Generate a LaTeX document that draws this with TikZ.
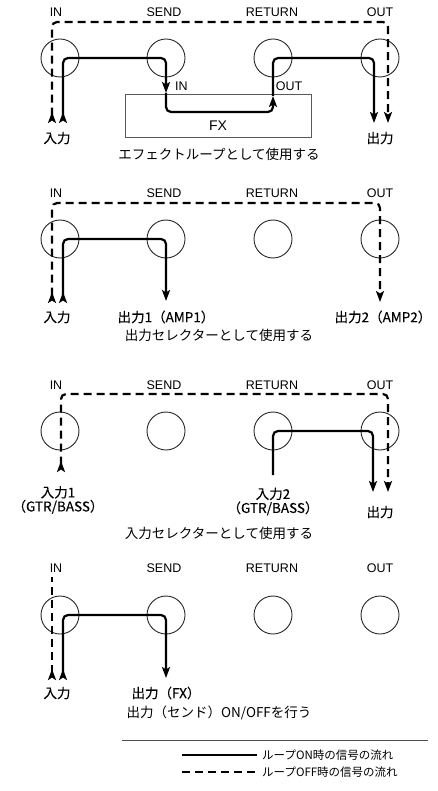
\documentclass[tikz,border=0pt]{standalone}
\usepackage{fontspec}
\setmainfont{Liberation Sans}
\newfontfamily\jp{Noto Sans CJK JP}
\newfontfamily\jpb[FakeBold=0.2]{Noto Sans CJK JP}
\usetikzlibrary{positioning, arrows.meta}

\tikzset{
  jack/.style={circle, draw=black!85, line width=0.9pt, minimum size=38pt, inner sep=0pt},
  jacklbl/.style={font=\fontsize{12.5pt}{14pt}\selectfont, inner sep=0pt},
  jptxt/.style={font=\jpb\fontsize{13.5pt}{14pt}\selectfont, inner sep=0pt, align=center},
  captxt/.style={font=\jp\fontsize{13.5pt}{14pt}\selectfont, inner sep=0pt},
  legtxt/.style={font=\jp\fontsize{11.5pt}{13pt}\selectfont, inner sep=0pt, anchor=west},
  sig/.style={line width=2.2pt, rounded corners=5pt},
  byp/.style={sig, dash pattern=on 8pt off 5pt},
  headin/.style={arrows={Stealth[reversed, length=11pt, width=8pt, inset=2.5pt]}-},
  headout/.style={arrows=-{Stealth[length=11pt, width=8pt, inset=2.5pt]}},
  bothway/.style={arrows={Stealth[reversed, length=11pt, width=8pt, inset=2.5pt]}-{Stealth[length=11pt, width=8pt, inset=2.5pt]}},
  fxbox/.style={draw=black!65, line width=0.9pt, minimum width=186pt, minimum height=43pt, inner sep=0pt},
  sepline/.style={draw=black!70, line width=0.9pt},
}

\begin{document}
\begin{tikzpicture}[x=1pt, y=-1pt]
\useasboundingbox (0,0) rectangle (438,791);

\node[jacklbl] at (56,12) {IN};
\node[jacklbl] at (164,12) {SEND};
\node[jacklbl] at (272,12) {RETURN};
\node[jacklbl] at (380,12) {OUT};
\node[jack] (in1) at (60,58) {};
\node[jack] (snd1) at (166,58) {};
\node[jack] (ret1) at (273,58) {};
\node[jack] (out1) at (380,58) {};
\node[fxbox] (fx) at (218,115.5) {};
\node[font=\fontsize{14pt}{16pt}\selectfont] at (218,126) {FX};
\node[jacklbl, anchor=west] at (175,86) {IN};
\node[jacklbl] at (289,86) {OUT};
\coordinate (d1a) at (52,123);
\coordinate (d1b) at (388,22);
\coordinate (d1c) at (388,123);
\coordinate (s1a) at (63,123);
\coordinate (s1b) at (166,93);
\coordinate (s1c) at (273,112);
\coordinate (s1d) at (273,96);
\coordinate (s1e) at (374,123);
\draw[byp, bothway] (d1a) |- (d1b) -- (d1c);
\draw[sig, bothway] (s1a) |- (snd1.center) -- (s1b);
\draw[sig, headout] (s1b) |- (s1c) -- (s1d);
\draw[sig, headout] (s1d) |- (s1e |- out1.center) -- (s1e);
\node[jptxt] at (57,138) {入力};
\node[jptxt] at (380,138) {出力};
\node[captxt] at (219,154) {エフェクトループとして使用する};

\begin{scope}[shift={(0,181)}]
\node[jacklbl] at (56,12) {IN};
\node[jacklbl] at (164,12) {SEND};
\node[jacklbl] at (272,12) {RETURN};
\node[jacklbl] at (380,12) {OUT};
\node[jack] (in2) at (60,58) {};
\node[jack] (snd2) at (166,58) {};
\node[jack] (ret2) at (273,58) {};
\node[jack] (out2) at (380,58) {};
\coordinate (d2a) at (52,122);
\coordinate (d2b) at (380,22);
\coordinate (d2c) at (380,121);
\coordinate (s2a) at (63,122);
\coordinate (s2b) at (166,120);
\draw[byp, bothway] (d2a) |- (d2b) -- (d2c);
\draw[sig, bothway] (s2a) |- (snd2.center) -- (s2b);
\node[jptxt] at (57,136) {入力};
\node[jptxt] at (166,136) {出力1（AMP1）};
\node[jptxt] at (383,136) {出力2（AMP2）};
\node[captxt] at (219,154) {出力セレクターとして使用する};
\end{scope}

\begin{scope}[shift={(0,373)}]
\node[jacklbl] at (56,12) {IN};
\node[jacklbl] at (164,12) {SEND};
\node[jacklbl] at (272,12) {RETURN};
\node[jacklbl] at (380,12) {OUT};
\node[jack] (in3) at (60,58) {};
\node[jack] (snd3) at (166,58) {};
\node[jack] (ret3) at (273,58) {};
\node[jack] (out3) at (380,58) {};
\coordinate (d3a) at (61,99);
\coordinate (d3b) at (388,21);
\coordinate (d3c) at (388,119);
\coordinate (s3a) at (273,102);
\coordinate (s3b) at (373,119);
\draw[byp, bothway] (d3a) |- (d3b) -- (d3c);
\draw[sig, headout] (s3a) -- (ret3.center) -| (s3b);
\node[jptxt] at (58,127) {入力1\\（GTR/BASS）};
\node[jptxt] at (273,128.5) {入力2\\（GTR/BASS）};
\node[jptxt] at (380,139) {出力};
\node[captxt] at (219,160) {入力セレクターとして使用する};
\end{scope}

\begin{scope}[shift={(0,557)}]
\node[jacklbl] at (56,11) {IN};
\node[jacklbl] at (164,11) {SEND};
\node[jacklbl] at (272,11) {RETURN};
\node[jacklbl] at (380,11) {OUT};
\node[jack] (in4) at (60,58) {};
\node[jack] (snd4) at (166,58) {};
\node[jack] (ret4) at (273,58) {};
\node[jack] (out4) at (380,58) {};
\coordinate (d4a) at (52,123);
\coordinate (d4b) at (52,20);
\coordinate (s4a) at (63,123);
\coordinate (s4b) at (166,121);
\draw[byp, headin] (d4a) -- (d4b);
\draw[sig, bothway] (s4a) |- (snd4.center) -- (s4b);
\node[jptxt] at (57,136) {入力};
\node[jptxt] at (166,136) {出力（FX）};
\node[captxt] at (219,156) {出力（センド）ON/OFFを行う};
\end{scope}

\coordinate (sepL) at (122,740);
\coordinate (sepR) at (428,740);
\draw[sepline] (sepL) -- (sepR);
\node[legtxt] (legon) at (262,755) {ループON時の信号の流れ};
\node[legtxt] (legoff) at (262,772) {ループOFF時の信号の流れ};
\coordinate (lon) at (182,755);
\coordinate (loff) at (182,772);
\draw[sig] (lon) -- ([xshift=-5pt]legon.west);
\draw[byp] (loff) -- ([xshift=-5pt]legoff.west);
\end{tikzpicture}
\end{document}
